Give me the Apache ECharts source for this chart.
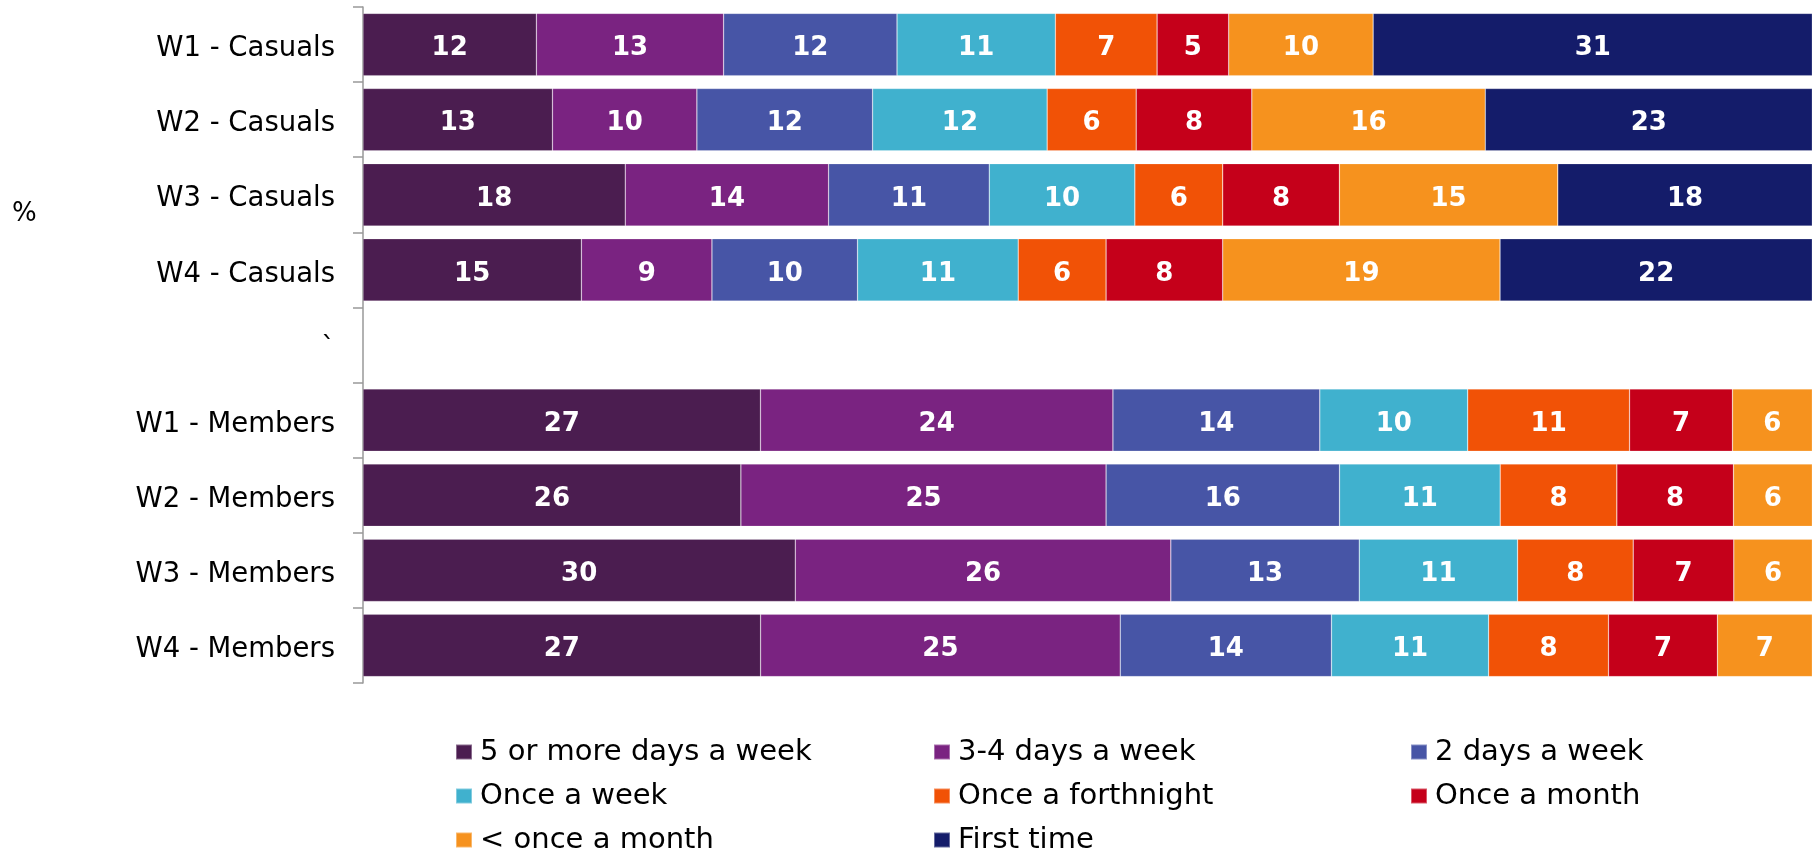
<!DOCTYPE html>
<html>
<head>
<meta charset="utf-8">
<script src="https://cdn.jsdelivr.net/npm/echarts@6/dist/echarts.min.js"></script>
<style>
html,body{margin:0;padding:0;background:#fff;}
#chart{width:1812px;height:849px;}
</style>
</head>
<body>
<div id="chart"></div>
<script>
const categories = ['W1 - Casuals','W2 - Casuals','W3 - Casuals','W4 - Casuals','`','W1 - Members','W2 - Members','W3 - Members','W4 - Members'];
const seriesNames = ['5 or more days a week','3-4 days a week','2 days a week','Once a week','Once a forthnight','Once a month','< once a month','First time'];
const fivePlus   = [11.86, 12.96, 17.94, 14.94, null, 27.19, 25.85, 29.57, 27.2];
const threeFour  = [12.81,  9.88, 13.91,  8.93, null, 24.11, 24.98, 25.69, 24.6];
const twoDays    = [11.86, 12.02, 10.99,  9.96, null, 14.15, 15.97, 12.89, 14.45];
const onceWeek   = [10.83, 11.94,  9.96, 10.99, null, 10.12, 10.99, 10.83, 10.75];
const fortnight  = [ 6.96,  6.09,  6.01,  6.01, null, 11.07,  7.98,  7.91,  8.2];
const onceMonth  = [ 4.90,  7.91,  7.98,  7.98, null,  7.04,  7.98,  6.88,  7.45];
const lessMonth  = [ 9.88, 15.97, 14.94, 18.97, null,  6.0,   6.1,   6.0,   7.0];
const firstTime  = [30.9,  23.23, 18.27, 22.22, null,  0,     0,     0,     0];
const seriesValues = [fivePlus, threeFour, twoDays, onceWeek, fortnight, onceMonth, lessMonth, firstTime];
const colors = ['#4b1d50','#7a2381','#4755a6','#40b1ce','#f15206','#c5001a','#f6921e','#141c6a'];
// legend layout: [column, row] for each series
const legendSlots = [[0,0],[1,0],[2,0],[0,1],[1,1],[2,1],[0,2],[1,2]];

const FONT = '"DejaVu Sans", Verdana, sans-serif';
const chart = echarts.init(document.getElementById('chart'));

const series = seriesNames.map((name, i) => ({
  name: name,
  type: 'bar',
  stack: 'total',
  barCategoryGap: '17%',
  data: seriesValues[i],
  itemStyle: { color: colors[i], borderColor: 'rgba(255,255,255,0.35)', borderWidth: 0.6 },
  label: {
    show: true,
    position: 'inside',
    offset: [0, 4],
    color: '#fff',
    fontFamily: FONT,
    fontWeight: 'bold',
    fontSize: 26,
    formatter: p => (p.value == null || p.value < 0.5) ? '' : String(Math.round(p.value))
  },
  emphasis: { disabled: true }
}));

const colLeft = [455, 933, 1410];
const rowCenter = [752, 796, 840];
const legends = seriesNames.map((name, i) => ({
  orient: 'horizontal',
  icon: 'rect',
  itemWidth: 16,
  itemHeight: 15,
  left: colLeft[legendSlots[i][0]],
  top: rowCenter[legendSlots[i][1]] - 16,
  padding: 0,
  data: [name],
  textStyle: { fontFamily: FONT, fontSize: 29, color: '#000', lineHeight: 32, padding: [0,0,0,3] },
  selectedMode: false
}));

chart.setOption({
  animation: false,
  color: colors,
  grid: { left: 363, top: 7, right: 0, height: 676, containLabel: false },
  xAxis: { type: 'value', min: 0, max: 99.12, show: false },
  yAxis: {
    type: 'category',
    inverse: true,
    data: categories,
    axisLine: { show: true, lineStyle: { color: '#999', width: 1.5 } },
    axisTick: { show: true, length: 10, lineStyle: { color: '#999', width: 1.5 } },
    axisLabel: {
      margin: 28,
      formatter: v => '{a|' + v + '}',
      rich: { a: { fontFamily: FONT, fontSize: 27.5, color: '#000', padding: [9, 0, 0, 0] } }
    }
  },
  legend: legends,
  graphic: [{
    type: 'text', left: 12, top: 201,
    style: { text: '%', fontFamily: FONT, fontSize: 26, fill: '#000' }
  }],
  series: series
});
</script>
</body>
</html>
